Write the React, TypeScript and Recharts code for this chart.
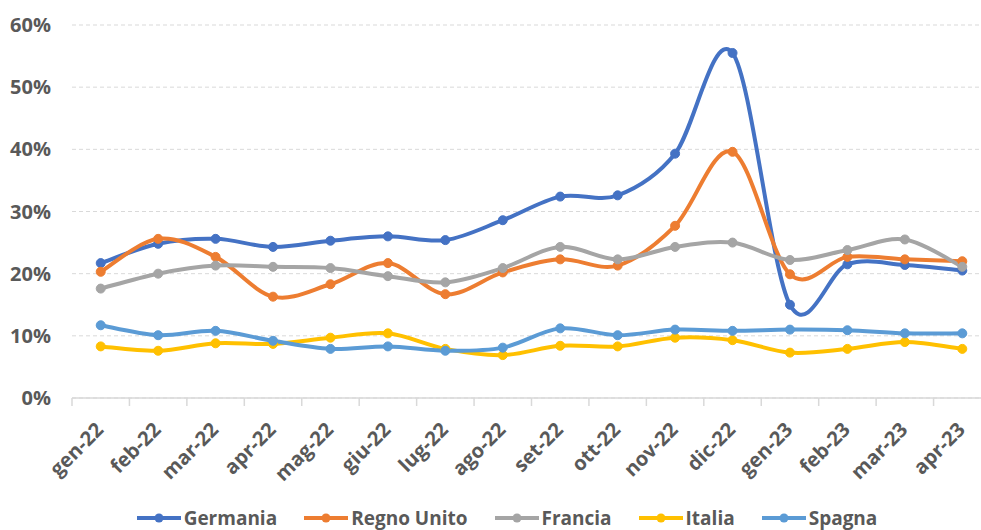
import React from "react"
import {
  LineChart,
  Line,
  XAxis,
  YAxis,
  CartesianGrid,
  Legend
} from "recharts"

const months = [
  "gen-22", "feb-22", "mar-22", "apr-22", "mag-22", "giu-22", "lug-22", "ago-22",
  "set-22", "ott-22", "nov-22", "dic-22", "gen-23", "feb-23", "mar-23", "apr-23"
]

const germania = [21.7, 24.8, 25.6, 24.3, 25.3, 26.0, 25.4, 28.6, 32.4, 32.6, 39.3, 55.5, 15.0, 21.5, 21.4, 20.5]
const regnoUnito = [20.3, 25.6, 22.7, 16.3, 18.3, 21.7, 16.7, 20.2, 22.3, 21.3, 27.7, 39.6, 19.9, 22.7, 22.3, 22.0]
const francia = [17.6, 20.0, 21.3, 21.1, 20.9, 19.6, 18.6, 20.9, 24.3, 22.3, 24.3, 25.0, 22.2, 23.8, 25.5, 21.1]
const italia = [8.3, 7.6, 8.8, 8.7, 9.7, 10.4, 7.9, 6.9, 8.4, 8.3, 9.7, 9.3, 7.3, 7.9, 9.0, 7.9]
const spagna = [11.7, 10.1, 10.8, 9.2, 7.9, 8.3, 7.6, 8.1, 11.2, 10.1, 11.0, 10.8, 11.0, 10.9, 10.4, 10.4]

const yTicks = [0, 10, 20, 30, 40, 50, 60]

const series = [
  { key: "Germania", values: germania, color: "#4472C4" },
  { key: "Regno Unito", values: regnoUnito, color: "#ED7D31" },
  { key: "Francia", values: francia, color: "#A5A5A5" },
  { key: "Italia", values: italia, color: "#FFC000" },
  { key: "Spagna", values: spagna, color: "#5B9BD5" }
]

const data = months.map((m, i) => {
  const row: Record<string, string | number> = { month: m }
  series.forEach(s => { row[s.key] = s.values[i] })
  return row
})

const W = 1000
const H = 530
const LEFT = 72
const RIGHT = 9
const BAND = (W - LEFT - RIGHT) / months.length
const FONT = "'Open Sans', sans-serif"
const TEXT = "#595959"
const GRID = "#D9D9D9"

// Excel style smoothing: bezier with control points at 1/6 of neighbour span
function excelCurve(context: any) {
  let pts: number[][] = []
  return {
    areaStart() {},
    areaEnd() {},
    lineStart() { pts = [] },
    point(x: number, y: number) { pts.push([+x, +y]) },
    lineEnd() {
      const n = pts.length
      if (!n) return
      context.moveTo(pts[0][0], pts[0][1])
      for (let i = 0; i < n - 1; i++) {
        const p0 = pts[Math.max(i - 1, 0)]
        const p1 = pts[i]
        const p2 = pts[i + 1]
        const p3 = pts[Math.min(i + 2, n - 1)]
        context.bezierCurveTo(
          p1[0] + (p2[0] - p0[0]) / 6, p1[1] + (p2[1] - p0[1]) / 6,
          p2[0] - (p3[0] - p1[0]) / 6, p2[1] - (p3[1] - p1[1]) / 6,
          p2[0], p2[1]
        )
      }
    }
  }
}

function MonthTick(props: any) {
  const { x, y, payload, index } = props
  const isLast = index === months.length - 1
  return (
    <g>
      <line x1={x - BAND / 2} y1={y} x2={x - BAND / 2} y2={y + 8} stroke={GRID} strokeWidth={1.5} />
      {isLast && <line x1={x + BAND / 2} y1={y} x2={x + BAND / 2} y2={y + 8} stroke={GRID} strokeWidth={1.5} />}
      <text
        x={x + 4}
        y={y + 33}
        textAnchor="end"
        transform={`rotate(-45, ${x + 4}, ${y + 33})`}
        fill={TEXT}
        fontSize={20}
        fontWeight={700}
        fontFamily={FONT}
      >
        {payload.value}
      </text>
    </g>
  )
}

function LegendRow() {
  return (
    <div style={{ display: "flex", justifyContent: "center", alignItems: "center", height: 0, gap: 27 }}>
      {series.map(s => (
        <div key={s.key} style={{ display: "flex", alignItems: "center" }}>
          <svg width={44} height={12}>
            <line x1={0} y1={6} x2={44} y2={6} stroke={s.color} strokeWidth={4} />
            <circle cx={22} cy={6} r={4.5} fill={s.color} />
          </svg>
          <span style={{ marginLeft: 3, color: TEXT, fontFamily: FONT, fontSize: 19, fontWeight: 700, lineHeight: 1 }}>
            {s.key}
          </span>
        </div>
      ))}
    </div>
  )
}

export default function App() {
  return (
    <div style={{ position: "absolute", left: 0, top: 0, width: 981, height: 530, overflow: "hidden", background: "#fff" }}>
      <LineChart width={W} height={H} data={data} margin={{ top: 25, right: RIGHT, bottom: 0, left: 0 }}>
        <CartesianGrid vertical={false} stroke={GRID} strokeDasharray="4 3" />
        <XAxis
          dataKey="month"
          height={132}
          padding={{ left: BAND / 2, right: BAND / 2 }}
          tickSize={0}
          tickMargin={0}
          tickLine={false}
          axisLine={{ stroke: GRID, strokeWidth: 1.5 }}
          interval={0}
          tick={<MonthTick />}
        />
        <YAxis
          width={LEFT}
          domain={[0, 60]}
          ticks={yTicks}
          tickFormatter={(v: number) => `${v}%`}
          axisLine={false}
          tickLine={false}
          tickMargin={15}
          tick={{ fill: TEXT, fontSize: 20, fontWeight: 700, fontFamily: FONT }}
        />
        {series.map(s => (
          <Line
            key={s.key}
            dataKey={s.key}
            type={excelCurve as any}
            stroke={s.color}
            strokeWidth={4}
            dot={{ r: 4.5, fill: s.color, stroke: s.color, strokeWidth: 1 }}
            activeDot={false}
            isAnimationActive={false}
          />
        ))}
        <Legend
          content={<LegendRow />}
          wrapperStyle={{ left: 0, width: 1014, top: 518, height: 0 }}
        />
      </LineChart>
    </div>
  )
}
